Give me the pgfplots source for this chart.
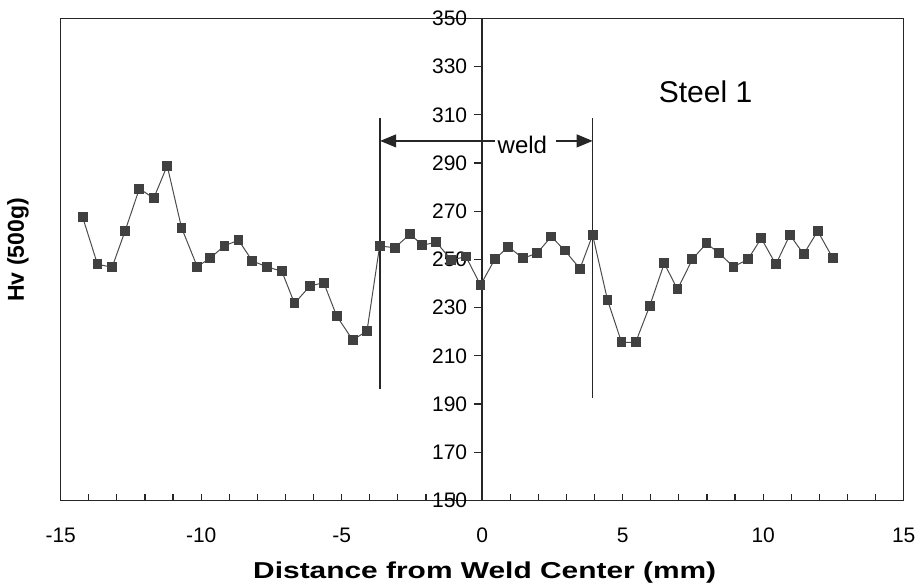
\documentclass[border=0pt]{standalone}
\usepackage{fontspec}
\setmainfont{Liberation Sans}
\newfontfamily\widefont[FakeStretch=1.3]{Liberation Sans}
\usepackage{pgfplots}
\pgfplotsset{compat=1.18}
\usetikzlibrary{arrows.meta}

% hardness traverse, Steel 1
\pgfplotstableread{
x y
-14.22 267.6
-13.69 248.0
-13.17 246.8
-12.71 261.8
-12.20 279.4
-11.69 275.4
-11.21 288.9
-10.70 263.2
-10.14 247.0
-9.69 250.5
-9.17 255.7
-8.67 258.0
-8.18 249.4
-7.67 247.0
-7.13 245.1
-6.68 231.8
-6.13 239.0
-5.64 240.4
-5.18 226.6
-4.61 216.6
-4.10 220.3
-3.65 255.6
-3.11 254.9
-2.57 260.5
-2.13 256.0
-1.63 257.1
-1.10 249.8
-0.58 251.2
-0.06 239.4
0.45 250.1
0.93 255.3
1.45 250.5
1.95 252.6
2.46 259.5
2.94 253.7
3.48 246.2
3.93 260.2
4.46 233.2
4.96 215.6
5.46 215.6
5.96 230.7
6.48 248.4
6.95 237.6
7.48 250.1
7.98 256.7
8.43 252.6
8.94 247.0
9.46 250.1
9.93 258.8
10.45 248.0
10.95 260.2
11.44 252.2
11.94 261.8
12.48 250.5
}\hardness

\begin{document}
\begin{tikzpicture}
\useasboundingbox (-30.35pt,-43.25pt) rectangle (428.65pt,250.25pt);
% frame and x axis
\begin{axis}[at={(0,0)},anchor=south west,
  scale only axis,width=421.5pt,height=241pt,
  xmin=-15,xmax=15,ymin=150,ymax=350,
  axis line style={black!85,line width=0.8pt},
  xtick={-15,-10,...,15},minor x tick num=4,ytick=\empty,
  xtick pos=bottom,tick align=inside,
  major tick length=3pt,minor tick length=3pt,
  tick style={black!85,line width=0.6pt},
  xticklabel style={font=\fontsize{10.5}{12}\selectfont,yshift=-10pt},
  /pgf/number format/assume math mode=true,
  xlabel={Distance from Weld Center (mm)},
  xlabel style={at={(axis description cs:0.503,-0.150)},anchor=center,
    font=\widefont\bfseries\fontsize{11.5}{13}\selectfont},
  ylabel={Hv (500g)},
  ylabel style={at={(axis description cs:-0.0506,0.52)},anchor=center,
    font=\bfseries\fontsize{11.5}{13}\selectfont}]
\end{axis}
% y axis through the weld centre, and the data
\begin{axis}[at={(0,0)},anchor=south west,
  scale only axis,width=421.5pt,height=241pt,
  xmin=-15,xmax=15,ymin=150,ymax=350,
  axis x line=none,axis y line=center,
  axis line style={-,black!85,line width=0.8pt},
  ytick={150,170,...,350},tick align=outside,major tick length=4pt,
  tick style={black!85,line width=0.6pt},
  yticklabel style={font=\fontsize{10.5}{12}\selectfont},
  /pgf/number format/assume math mode=true,
  clip=false]
\addplot[black!70,line width=0.5pt,mark=square*,mark size=2.2pt,
  mark options={fill=black!75,draw=black!75}] table {\hardness};
\draw[black!85,line width=0.7pt] (axis cs:-3.63,308.7) -- (axis cs:-3.63,196.3);
\draw[black!85,line width=0.7pt] (axis cs:3.93,308.7) -- (axis cs:3.93,192.5);
\draw[black!85,line width=0.6pt,-{Triangle[length=8pt,width=6.5pt]}]
  (axis cs:0.45,299.2) -- (axis cs:-3.63,299.2);
\draw[black!85,line width=0.6pt,-{Triangle[length=8pt,width=6.5pt]}]
  (axis cs:2.64,299.2) -- (axis cs:3.93,299.2);
\node[fill=white,inner sep=1pt,font=\fontsize{12}{14}\selectfont]
  at (axis cs:1.43,297.6) {weld};
\node[font=\fontsize{15}{17}\selectfont] at (axis cs:7.95,319.5) {Steel 1};
\end{axis}
\end{tikzpicture}
\end{document}
